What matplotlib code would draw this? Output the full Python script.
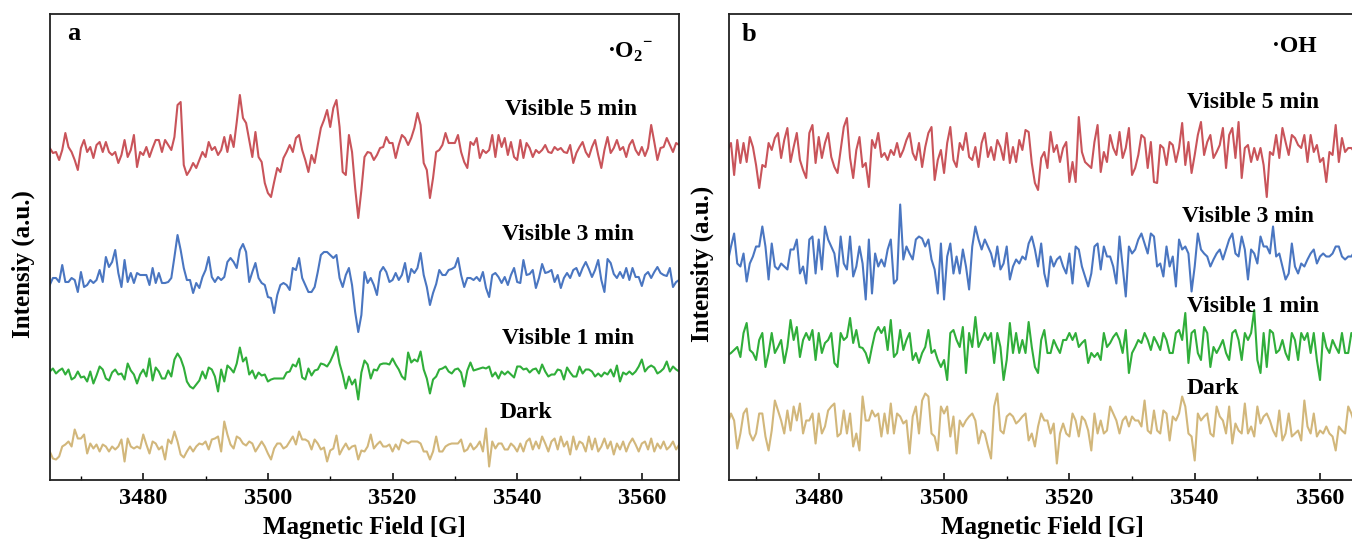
import numpy as np
import matplotlib.pyplot as plt
from matplotlib.ticker import MultipleLocator

plt.rcParams['font.family'] = ['Liberation Serif', 'DejaVu Serif']
plt.rcParams['font.weight'] = 'bold'
plt.rcParams['mathtext.fontset'] = 'custom'
plt.rcParams['mathtext.rm'] = 'Liberation Serif:bold'
plt.rcParams['mathtext.bf'] = 'Liberation Serif:bold'

# magnetic field sweep (G), 0.5 G step
field = np.arange(3465.0, 3566.01, 0.5)

# panel a (DMPO-O2-), signal, a.u. relative to each baseline
red_a = [2, -3, -2, -10, 0, 17, 3, -2, -10, -20, 2, 10, -2, 3, -8, 5, 8, -2, 8, -2,
         -5, -2, -13, -5, 10, -7, 0, 15, -17, -2, -5, 3, -7, 2, 10, 10, -2, 10, 5, 0,
         13, 45, 48, -15, -25, -20, -13, -18, -10, -2, -7,
         8, 0, 3, -5, 0, 13, -2, 15, 3, 28, 55, 32, 27, 10, -7, 18, -7, -12, -33, -43,
         -47, -32, -18, -22, -8, -2, 5, -2, 12, 15, 0, -10, -22, -5, -13, 5, 22, 30, 40, 23,
         42, 50, 23, -22, -25, 15, -2, -38, -68, -40,
         -7, -2, -3, -10, -5, 2, 3, 13, 7, 7, -8, 5, 15, 12, 5, 12, 22, 37, 25, -13,
         -20, -48, -28, -2, 0, 5, 17, 7, 7, 7, 15, -2, -12, -18, 8, 5, 12, -8, 0, -3,
         0, 15, -7, 15, 3, 12, -5, 8, -7, -10,
         10, -8, 7, 2, -7, 0, -3, 0, 5, -2, -3, 3, 0, 2, -2, -3, 5, -13, -3, 3,
         8, -2, -7, 3, 10, -5, -18, 0, 13, -3, 2, 10, 0, 3, -7, 5, 10, 0, -5, 3,
         -6, 2, 25, 8, -10, 2, 3, 12, 5, -2, 7, 5]
blue_a = [-10, -3, -3, -7, 10, -7, -7, -3, -5, -17, 3, -12, -10, -5, -8, -5, 5, -7, 18, 8,
          13, 25, 2, -12, 15, -7, 2, -8, 2, 0, 0, 0, -10, 7, -8, 2, -8, -8, -7, -3,
          18, 40, 25, 7, -5, -5, -18, -8, -13, -2, 5,
          18, -2, -7, -2, -5, -2, 13, 17, 13, 7, 25, 31, 23, -7, 3, 12, -3, -8, -10, -22,
          -23, -38, -20, -10, -8, -10, -15, 7, 5, 17, -3, -10, -17, -17, -12, 3, 20, 23, 23, 20,
          17, 20, -3, -12, 0, 7, -10, -37, -57, -40,
          3, -8, -3, -10, -20, 3, 8, 3, -7, -5, 2, -5, 0, 12, -7, 6, 2, 7, 22, 0,
          -12, -30, -18, -9, 5, 0, 0, 5, 6, 8, 17, 0, -12, -3, -3, -5, -2, -6, 3, -13,
          -22, 0, 2, -2, -8, -2, -10, 0, 7, -7,
          -8, 15, 0, 1, 5, -13, -3, 11, 2, 3, 5, -7, 0, -13, -3, 2, -3, 5, 7, -1,
          7, 13, 6, -2, 5, 15, -5, -17, 16, 12, 1, -3, 3, -3, 7, -5, 7, -2, -2, -11,
          0, 3, -3, 3, 8, 2, 0, -1, 7, -12, -7, -5]
green_a = [0, 3, -2, 1, 3, -3, 2, -8, -6, 0, -6, -5, -10, 0, -12, -4, 5, 2, -7, -9,
           -1, 2, -3, -2, -8, 8, 1, -3, -12, -3, 2, -5, 13, -9, 4, 0, -7, -7, 1, -5,
           12, 18, 13, 4, -10, -15, -17, -13, -9, 0, -7,
           4, 2, -5, -20, 2, -10, 6, 3, -1, 8, 24, 10, 14, -3, 1, -7, -1, -4, -3, -10,
           -8, -7, -7, -7, -7, -1, 0, 7, 5, 13, -6, -8, 3, -4, 1, 2, 8, 7, 5, 10,
           17, 25, 8, -3, -17, -5, -13, -8, -28, -1,
           11, 7, -7, 2, 1, 7, 8, 8, 7, 13, 7, 2, -5, -8, 19, 9, 12, 10, 20, 2,
           -7, -22, -8, -5, 2, 3, 5, 0, -2, 2, 3, -1, -15, 1, 9, 1, 2, 3, 4, 3,
           5, -5, -1, -7, 0, -3, 0, -3, -6, 5,
           5, 2, 3, -1, 2, 3, -2, 7, 0, -5, -3, -3, 2, 1, -8, 4, -1, -5, -5, 5,
           -2, 2, 2, 0, -5, -2, -5, -1, -3, 2, -5, 6, -10, -1, -3, 0, -3, 0, 5, 12,
           0, 4, 6, 4, -2, 0, 3, 10, 0, 5, 2, 0]
tan_a = [-5, -12, -13, -10, 0, 2, 5, 0, 17, 8, 8, 12, -7, 3, -2, 2, -5, 2, 0, -5,
         0, -3, 0, 7, -15, 8, 0, -2, 0, -2, 12, 2, -7, 5, 3, -3, 0, -13, 7, 3,
         15, 5, -8, -11, -5, 0, -5, 0, 3, 2, 5,
         -3, 7, 8, 10, -5, 25, 12, 2, -2, 10, 8, 3, 1, 5, 3, -5, 0, 5, 0, -7,
         -13, -2, 3, 3, -2, 0, 5, 10, 2, 15, 7, 7, 5, -3, 7, 3, -3, -1, -15, -4,
         -2, 11, -8, -2, 3, -3, 0, 1, -13, -4,
         -5, 0, 12, -2, 2, 5, 0, 0, 2, -5, 2, -3, 7, 5, 3, 5, 5, 5, 3, -5,
         -5, -13, -5, 10, -5, -5, 0, 2, 3, 3, 3, 7, -5, -3, 3, -3, 0, 5, -5, 18,
         -20, 5, -2, 3, 3, -3, -3, 3, 0, -5,
         3, -5, 5, 8, -3, 5, -2, 10, 3, -5, 5, 8, -3, 10, 0, 5, -8, 10, -3, 5,
         3, -5, 10, -3, 8, -5, 0, 8, -2, 5, -8, 3, -3, 5, -5, 3, 8, 2, -5, 3,
         5, -3, 8, -5, 3, -2, 5, -3, 0, 5, -3, 2]

# panel b (DMPO-OH)
red_b = [0, 5,
         12, -20, 15, -8, 12, -7, 18, 8, -10, -33, -10, -12, 12, 5, 17, 22, -3, 15, 27, -7,
         8, 22, -5, -15, -23, 22, 30, -8, 18, -3, 12, 22, -2, -12, -18, 5, 28, 37, -3, -23,
         5, 18, -12, -8, -32, 15, 7, 22, -2, 2, -5, 5, 0, 12, -2, 5, 15, 22, 2, -5,
         12, -12, 8, 22, 28, -25, -5, 5, -18, 12, 28, -5, -12, 12, 5, 22, -2, -5, 8, -12,
         12, 22, -2, 8, -5, 15, 8, -5, 22, -8, 8, -7, 15, 5, 25, 23, -8, -28, -35,
         -3, 3, -13, 23, 3, 10, -7, 7, 13, -27, -7, -27, 38, 3, -7, -10, -13, 13, 30, -17,
         3, -7, 20, 7, 0, 23, -3, 7, 27, -20, -13, 0, 20, 17, -13, 13, -27, -28, 10, 7,
         -10, 13, 10, -7, 7, 32, -10, 13, -18, 0, 20, 33, 0, 13, 20, -3, 3, 10, 27, -13,
         20, 27, -3, 33, -23, 7, 10, -7, 7, -5, 7, -10, -42, 3, 0, 20, -3, 27, 13, 0,
         20, 17, 10, 7, 20, -7, 20, 3, 10, -7, -3, -27, 3, 0, 30, -7, 17, 3, 7, 7,
         3, 0]
blue_b = [0, -5,
          10, 23, -7, -10, 3, -25, -7, 0, 10, 10, 30, 10, -23, 13, -10, -13, -7, -10, -13, 7,
          7, 17, -17, -10, -27, 17, 20, -17, 17, -13, 30, 17, 10, 3, -20, 20, -7, -13, 20, -20,
          -10, 10, -7, -43, 17, -37, 3, -10, -3, -10, 7, 17, -27, -23, 52, -3, 10, 3, -3, 17,
          20, 18, 10, 17, -3, -13, -37, 13, -43, 0, 13, -17, 0, -17, 7, -10, -33, 10, 30, 17,
          7, 17, 10, 3, -10, 10, -13, -7, 10, -23, -10, -3, -7, 0, -3, 13, 20, 7, -10,
          13, -17, -30, 0, -10, -3, 0, -10, -17, 3, -27, 10, 7, -10, -20, -30, -17, 10, 13, -13,
          10, 0, 0, -10, -27, 20, -10, -40, 10, 3, 7, 17, 23, 13, 3, 23, 20, -10, -7, -20,
          10, -10, 0, -30, 17, 7, 10, 3, -35, -10, 23, 7, 3, 0, -10, -3, 3, 7, -3, 7,
          17, 23, 3, 0, 20, 7, -23, 7, 3, -7, 20, 10, 10, 3, 30, 0, 3, -10, -23, -17,
          13, -10, -17, -7, -10, -3, 3, 7, -7, 0, 3, 0, 0, 3, 10, 10, 0, -3, 0, 0,
          5, 0]
green_b = [0, -10,
           -8, -5, -2, -12, 12, 22, -5, -8, -15, 5, 12, -22, -8, 12, -8, -2, 5, -18, -2, 25,
           5, 18, -12, 5, 12, 5, 15, -15, 12, -8, 2, 5, 12, -18, -22, 12, 5, 8, 27, 2,
           15, -2, -3, -8, -18, -2, 12, 18, 12, 18, -5, 25, -12, -8, 15, -5, 5, 12, -15, -8,
           -18, -8, -2, 15, -8, -5, -15, -22, -15, -35, 12, 15, 5, -2, 18, -28, 12, -2, 28, -2,
           5, 12, 5, 12, -18, 12, -2, -35, -15, 22, -8, 12, -8, 5, -8, 23, -2, -22, -28,
           5, 15, -8, -8, 5, -2, -8, 5, 5, 12, 5, 12, -2, 2, 5, -18, -8, -12, -8, -15,
           12, -2, 2, 8, 12, 5, -8, 15, -28, -8, -2, 5, 2, 12, 5, -5, 8, 2, -5, 12,
           5, -8, -8, 12, 15, 5, 32, -18, 12, 15, -8, -15, 18, 12, -22, -2, -8, -2, 5, -8,
           -15, 12, 15, 5, -15, 12, 5, 12, 35, -15, -28, 12, -22, 15, 12, -8, -5, 5, -8, -15,
           12, 5, -15, 12, 5, 12, -8, 12, -15, -35, 12, -2, -8, 5, -2, -8, 12, -8, -8, 12,
           5, -5]
tan_b = [0, 5,
         15, 8, -20, -5, 15, 20, -5, -12, -5, 15, 15, -8, -22, -2, 28, 18, 8, -5, 18, -2,
         22, 8, 25, -5, 8, 8, 15, -15, 15, -5, 2, 18, 22, 25, -8, -5, 18, -5, 15, -18,
         -5, -22, 32, 8, 8, 18, 12, 15, -8, 15, -5, 25, -5, 15, 12, 5, 8, -25, 12, 22,
         -5, 28, 35, 32, -5, -8, -22, 22, 15, 22, -8, 12, -25, 8, 2, 8, 12, 15, 8, -15,
         -2, -5, -18, -30, 22, 35, -2, -5, 12, 15, 12, 5, 8, 12, 15, -12, -5, -18, 2,
         15, 8, 8, -5, 5, -35, -5, 5, -5, -8, 15, 8, -8, 12, 8, -2, -22, 15, -5, 8,
         -5, -2, 22, 15, 8, -5, 8, 12, 2, 12, 8, 8, 2, 28, -2, -5, 18, -2, -5, 18,
         15, -12, 12, 8, 15, 32, 22, -5, -8, -32, 15, 8, 12, 15, -5, -8, 22, 12, 8, -5,
         22, -15, 5, -2, -5, 25, -5, 2, -8, 22, 5, 12, 15, 8, -2, -8, 18, -12, -5, 15,
         -8, -5, -2, -12, 28, 2, -5, 15, -8, -2, -5, 2, -5, -8, -22, 2, -2, -5, 22, 15,
         5, 0]

labels = ['Visible 5 min', 'Visible 3 min', 'Visible 1 min', 'Dark']
colors = ['#c9545a', '#4a76c1', '#30ae3a', '#d2b77b']
offsets_a = [329.5, 204.5, 108, 33]
offsets_b = [324.5, 223, 134.5, 51]

panels = [
    dict(series=[red_a, blue_a, green_a, tan_a], offs=offsets_a, letter='a',
         radical='·O$_\\mathbf{2}$$^{\\mathbf{-}}$', ylabel='Intensiy (a.u.)',
         left=50.4, xlim=(3465.1, 3565.9),
         letter_pos=(0.037, 0.957), rad_pos=(0.923, 0.918),
         lab_pos=[(0.829, 0.795), (0.824, 0.525), (0.824, 0.302), (0.757, 0.144)]),
    dict(series=[red_b, blue_b, green_b, tan_b], offs=offsets_b, letter='b',
         radical='·OH', ylabel='Intensity (a.u.)',
         left=728.8, xlim=(3465.65, 3565.9),
         letter_pos=(0.032, 0.955), rad_pos=(0.901, 0.929),
         lab_pos=[(0.834, 0.810), (0.827, 0.564), (0.834, 0.372), (0.770, 0.195)]),
]

W, H = 1352, 539
fig = plt.figure(figsize=(W / 100, H / 100), dpi=100)

for p in panels:
    ax = fig.add_axes([p['left'] / W, 1 - 479.5 / H, 628.2 / W, 466 / H])
    for s, off, c in zip(p['series'], p['offs'], colors):
        ax.plot(field, np.array(s) + off, color=c, lw=1.5)
    ax.set_xlim(*p['xlim'])
    ax.set_ylim(0, 466)
    ax.set_yticks([])
    ax.set_xticks(np.arange(3480, 3561, 20))
    ax.xaxis.set_minor_locator(MultipleLocator(10))
    ax.tick_params(axis='x', which='major', direction='in', length=5, width=1.1,
                   labelsize=17.5, pad=6)
    ax.tick_params(axis='x', which='minor', direction='in', length=3, width=1.0)
    for lab in ax.get_xticklabels():
        lab.set_fontweight('bold')
    for sp in ax.spines.values():
        sp.set_linewidth(1.3)
        sp.set_color('#222222')
    ax.set_xlabel('Magnetic Field [G]', fontsize=18, fontweight='bold', labelpad=5)
    ax.set_ylabel(p['ylabel'], fontsize=18, fontweight='bold')
    ax.yaxis.set_label_coords(-0.024, 0.462)

    ax.text(*p['letter_pos'], p['letter'], transform=ax.transAxes, ha='center',
            va='center', fontsize=19, fontweight='bold')
    ax.text(*p['rad_pos'], p['radical'], transform=ax.transAxes, ha='center',
            va='center', fontsize=17, fontweight='bold')
    for lab, pos in zip(labels, p['lab_pos']):
        ax.text(*pos, lab, transform=ax.transAxes, ha='center', va='center',
                fontsize=17, fontweight='bold')

fig.savefig('out.png', dpi=100)
